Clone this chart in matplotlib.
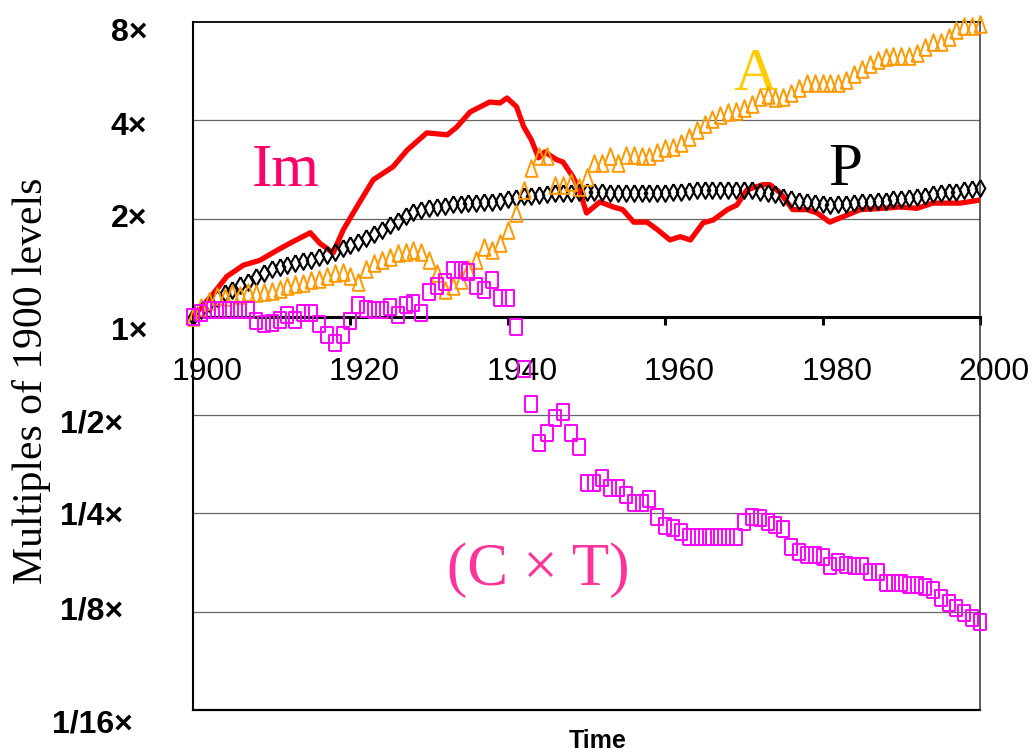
import matplotlib
matplotlib.use("Agg")
from matplotlib import pyplot as plt
from matplotlib.path import Path
from matplotlib.transforms import ScaledTranslation

# annual series, multiples of 1900 level
years = list(range(1900, 2001))

P = [1.00, 1.05, 1.10, 1.14, 1.18, 1.21, 1.25, 1.28, 1.32, 1.36,
     1.40, 1.42, 1.44, 1.46, 1.48, 1.49, 1.52, 1.55, 1.58, 1.62,
     1.66, 1.70, 1.74, 1.79, 1.85, 1.91, 1.97, 2.04, 2.09, 2.12,
     2.15, 2.17, 2.19, 2.21, 2.22, 2.23, 2.23, 2.24, 2.25, 2.27,
     2.29, 2.31, 2.34, 2.35, 2.36, 2.38, 2.39, 2.40, 2.40, 2.41,
     2.41, 2.41, 2.41, 2.40, 2.40, 2.39, 2.40, 2.40, 2.40, 2.39,
     2.40, 2.41, 2.42, 2.43, 2.44, 2.44, 2.45, 2.45, 2.45, 2.45,
     2.45, 2.44, 2.42, 2.40, 2.38, 2.33, 2.29, 2.27, 2.25, 2.23,
     2.21, 2.20, 2.21, 2.22, 2.23, 2.24, 2.25, 2.26, 2.27, 2.29,
     2.30, 2.31, 2.33, 2.35, 2.37, 2.39, 2.41, 2.42, 2.44, 2.46,
     2.48]

A = [1.00, 1.07, 1.12, 1.16, 1.15, 1.18, 1.17, 1.19, 1.18, 1.19,
     1.20, 1.22, 1.24, 1.26, 1.27, 1.30, 1.31, 1.33, 1.36, 1.37,
     1.33, 1.28, 1.40, 1.46, 1.49, 1.52, 1.57, 1.58, 1.60, 1.58,
     1.49, 1.36, 1.21, 1.24, 1.30, 1.40, 1.49, 1.64, 1.60, 1.68,
     1.85, 2.08, 2.45, 2.86, 3.10, 3.10, 2.54, 2.54, 2.59, 2.50,
     2.68, 2.96, 2.96, 3.10, 2.96, 3.13, 3.13, 3.10, 3.10, 3.20,
     3.29, 3.31, 3.41, 3.56, 3.73, 3.90, 4.05, 4.15, 4.24, 4.26,
     4.35, 4.50, 4.70, 4.78, 4.68, 4.70, 4.85, 5.03, 5.20, 5.20,
     5.20, 5.20, 5.20, 5.30, 5.55, 5.75, 5.95, 6.10, 6.25, 6.30,
     6.30, 6.30, 6.45, 6.70, 6.95, 6.95, 7.20, 7.55, 7.80, 7.80,
     7.90]

CT = [1.00, 1.03, 1.05, 1.05, 1.05, 1.05, 1.05, 1.05, 0.97, 0.95,
      0.96, 0.98, 1.01, 0.98, 1.03, 1.03, 0.95, 0.88, 0.83, 0.88,
      0.97, 1.09, 1.06, 1.05, 1.05, 1.07, 1.01, 1.09, 1.10, 1.03,
      1.19, 1.24, 1.28, 1.39, 1.39, 1.37, 1.24, 1.21, 1.30, 1.14,
      1.14, 0.93, 0.69, 0.54, 0.41, 0.44, 0.49, 0.51, 0.44, 0.40,
      0.31, 0.31, 0.32, 0.30, 0.30, 0.285, 0.27, 0.27, 0.276, 0.244,
      0.228, 0.226, 0.22, 0.211, 0.212, 0.212, 0.211, 0.211, 0.211, 0.212,
      0.235, 0.244, 0.242, 0.235, 0.231, 0.224, 0.197, 0.191, 0.187, 0.187,
      0.184, 0.172, 0.178, 0.174, 0.172, 0.172, 0.165, 0.165, 0.153, 0.153,
      0.153, 0.151, 0.151, 0.149, 0.146, 0.138, 0.133, 0.128, 0.124, 0.12,
      0.116]

# Im drawn as a line
im_years = [1900, 1902.6, 1904.3, 1906.4, 1908.5, 1910.7, 1912.3, 1914.9, 1916.1, 1917.8,
            1919.1, 1920.8, 1922.9, 1925.4, 1927.2, 1929.7, 1932.3, 1933.5, 1935.2, 1937.7,
            1939, 1939.9, 1941.1, 1942, 1943, 1943.9, 1944.7, 1946.2, 1947, 1948.3,
            1949.2, 1950, 1951.7, 1953.4, 1954.6, 1956, 1957.7, 1959, 1960.6, 1961.9,
            1963.2, 1964.8, 1966.1, 1967.9, 1969.1, 1970.4, 1972.4, 1973.3, 1974.6, 1976.2,
            1978, 1979.3, 1980.9, 1983.1, 1984.8, 1987.7, 1989.8, 1992, 1994, 1997.5,
            2000]
Im = [1.00, 1.18, 1.33, 1.44, 1.49, 1.60, 1.68, 1.81, 1.68, 1.57,
      1.85, 2.17, 2.63, 2.88, 3.24, 3.66, 3.61, 3.81, 4.24, 4.55,
      4.52, 4.68, 4.40, 3.83, 3.48, 3.07, 3.20, 3.03, 2.98, 2.68,
      2.40, 2.08, 2.25, 2.17, 2.13, 1.95, 1.95, 1.85, 1.72, 1.76,
      1.72, 1.94, 1.98, 2.13, 2.20, 2.45, 2.54, 2.54, 2.40, 2.13,
      2.13, 2.08, 1.95, 2.05, 2.13, 2.15, 2.17, 2.15, 2.23, 2.23,
      2.28]

ytick_vals = [1/16, 1/8, 1/4, 1/2, 1, 2, 4, 8]
ytick_labels = ["1/16×", "1/8×", "1/4×", "1/2×", "1×", "2×", "4×", "8×"]
# hand-placed label nudges in the original (pixels)
ytick_nudge = [(-14, -11), (-24, 4), (-24, 0), (-24, -6), (0, -12), (0, 3), (0, -3), (0, -8)]
xtick_vals = [1900, 1920, 1940, 1960, 1980, 2000]

# tall, narrow outline markers
diamond = Path([(0, 0.5), (0.29, 0), (0, -0.5), (-0.29, 0), (0, 0.5)])
triangle = Path([(-0.36, -0.5), (0.36, -0.5), (0, 0.5), (-0.36, -0.5)])
rect = Path([(-0.35, -0.5), (0.35, -0.5), (0.35, 0.5), (-0.35, 0.5), (-0.35, -0.5)])

fig = plt.figure(figsize=(10.34, 7.53), dpi=100)
ax = fig.add_axes([0.1867, 0.0571, 0.7611, 0.9137])
ax.set_yscale("log", base=2)
ax.set_ylim(1/16, 8)
ax.set_xlim(1900, 2000)

for v in [1/8, 1/4, 1/2, 2, 4]:
    ax.axhline(v, color="#666666", lw=0.9, zorder=1)

ax.plot(im_years, Im, color="#FF0000", lw=3.8, zorder=3)
ax.plot(years, P, linestyle="none", marker=diamond, markersize=12,
        markerfacecolor="none", markeredgecolor="black", markeredgewidth=1.5, zorder=4, clip_on=False)
ax.plot(years, A, linestyle="none", marker=triangle, markersize=12,
        markerfacecolor="none", markeredgecolor="#FF9900", markeredgewidth=1.4, zorder=5, clip_on=False)
ax.plot(years, CT, linestyle="none", marker=rect, markersize=11.5,
        markerfacecolor="none", markeredgecolor="#FF00FF", markeredgewidth=1.4, zorder=6, clip_on=False)

# frame: x axis runs through 1x, box closed at 1/16
ax.spines["bottom"].set_position(("data", 1))
ax.spines["bottom"].set_linewidth(2.2)
ax.spines["left"].set_linewidth(1.5)
ax.spines["top"].set_linewidth(1.3)
ax.spines["right"].set_linewidth(1.1)
ax.spines["right"].set_color("#333333")
ax.axhline(1/16, color="black", lw=1.6, clip_on=False, zorder=2)

ax.set_xticks(xtick_vals)
ax.set_xticklabels([str(y) for y in xtick_vals], fontsize=23, family="Liberation Sans")
ax.tick_params(axis="x", direction="out", length=6, width=2.2, pad=23)
for lab in ax.get_xticklabels():
    lab.set_transform(lab.get_transform() + ScaledTranslation(14/100, 0, fig.dpi_scale_trans))

ax.set_yticks(ytick_vals)
ax.yaxis.set_minor_locator(matplotlib.ticker.NullLocator())
ax.set_yticklabels(ytick_labels, fontsize=23, fontweight="bold", family="Liberation Sans")
ax.tick_params(axis="y", length=0, pad=33)
for lab, (dx, dy) in zip(ax.get_yticklabels(), ytick_nudge):
    lab.set_transform(lab.get_transform() + ScaledTranslation(dx/100, dy/100, fig.dpi_scale_trans))

fig.text(0.03, 0.494, "Multiples of 1900 levels", rotation=90, ha="center", va="center",
         fontsize=30, family="Liberation Serif")
fig.text(0.578, 0.0, "Time", ha="center", va="bottom", fontsize=18, fontweight="bold",
         family="Liberation Sans")

serif = dict(family="Liberation Serif", fontsize=44, va="baseline", ha="left")
ax.text(1907.4, 2.52, "Im", color="#FF0066", **serif)
ax.text(1968.6, 4.96, "A", color="#FFCC00", **serif)
ax.text(1980.7, 2.54, "P", color="black", **serif)
ax.text(1932.3, 0.151, "(C × T)", color="#FF3399", **serif)

fig.savefig("out.png", dpi=100)
